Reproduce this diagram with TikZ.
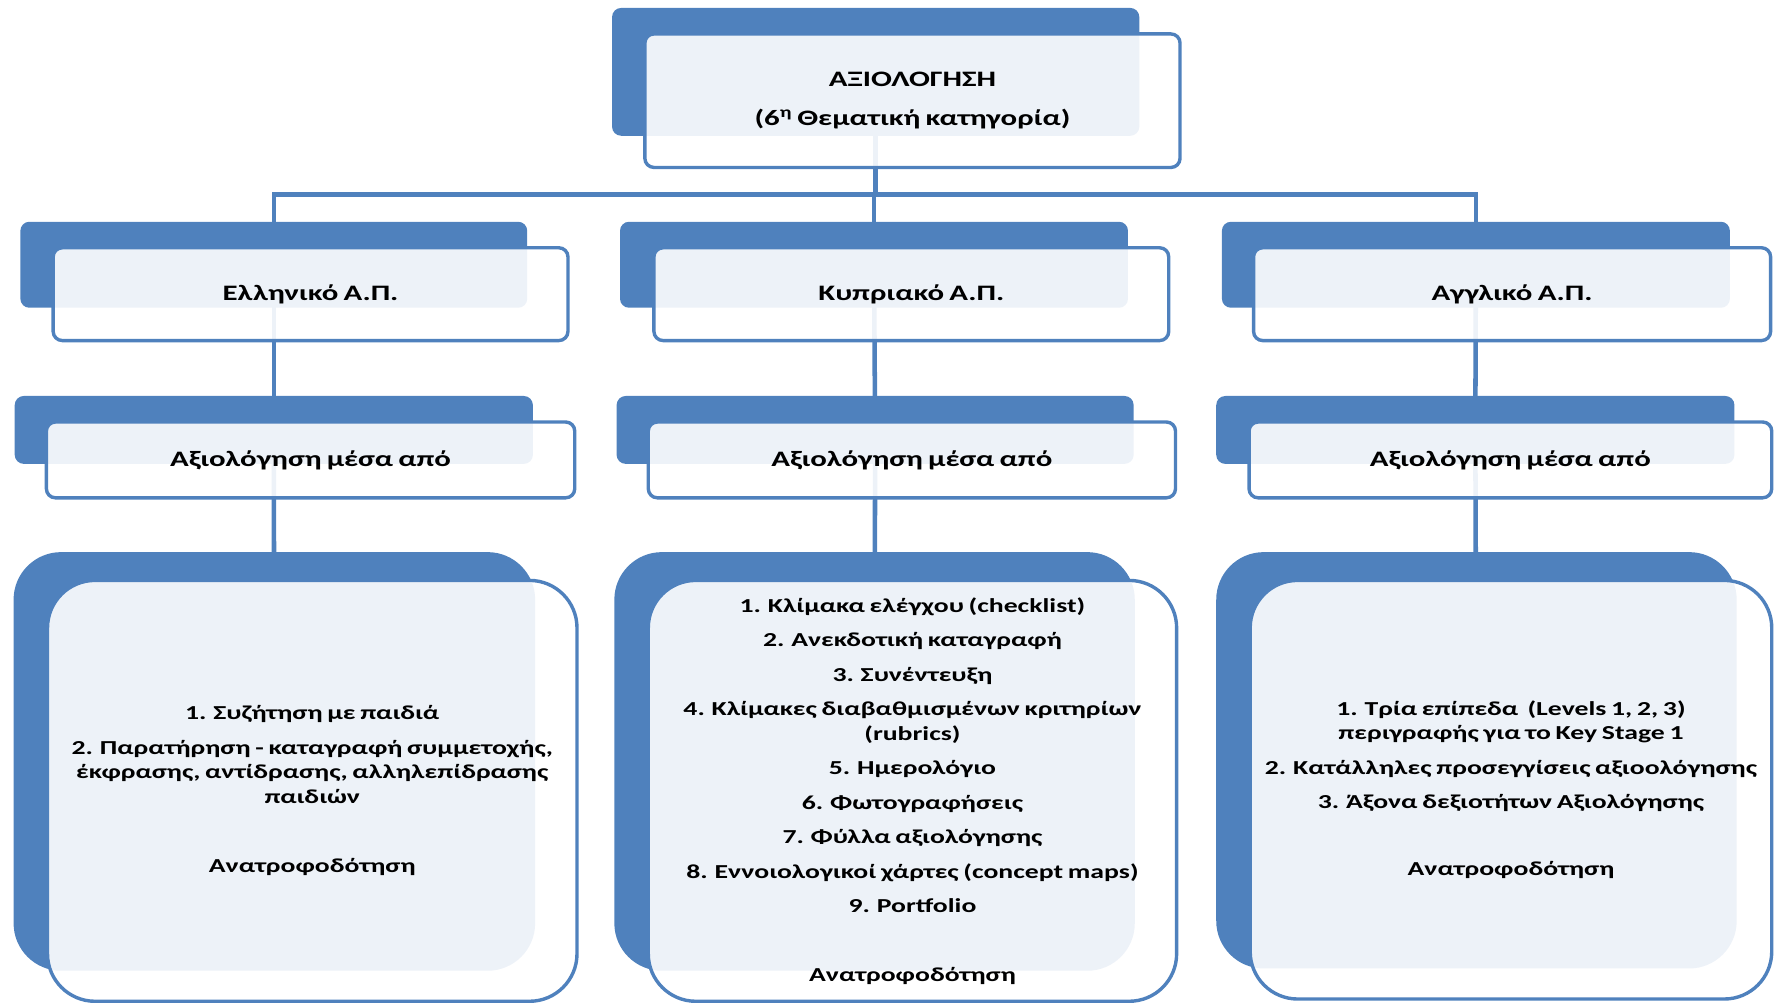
\documentclass[tikz,border=0pt]{standalone}
\usepackage{fontspec}
\setmainfont{Carlito}[FakeStretch=1.4, WordSpace=0.75]
\definecolor{acc}{HTML}{4F81BD}
\pgfdeclarelayer{bg}
\pgfsetlayers{bg,main}
\begin{document}
\begin{tikzpicture}[x=1pt,y=-1pt,
  back/.style={fill=acc, rounded corners=8pt, inner sep=0pt, draw=none},
  bigback/.style={back, rounded corners=42pt},
  front/.style={draw=acc, line width=3pt, fill=white, fill opacity=0.9, text opacity=1,
    rounded corners=8pt, inner sep=2pt, align=center, text=black,
    font=\bfseries\fontsize{19.5}{23}\selectfont},
  bigfront/.style={front, rounded corners=42pt,
    font=\bfseries\fontsize{17.5}{21.5}\selectfont},
  conn/.style={draw=acc, line width=4pt}]
\useasboundingbox (0,0) rectangle (1568,887);
\coordinate (bus) at (774,172);
% back boxes
\node[back, minimum width=466pt, minimum height=113pt] (tb) at (774,63.5) {};
\node[back, minimum width=448pt, minimum height=76pt] (l2b) at (242,234) {};
\node[back, minimum width=449pt, minimum height=76pt] (m2b) at (772.5,234) {};
\node[back, minimum width=449pt, minimum height=76pt] (r2b) at (1304.5,234) {};
\node[back, minimum width=458pt, minimum height=60pt] (l3b) at (242,380) {};
\node[back, minimum width=457pt, minimum height=60pt] (m3b) at (773.5,380) {};
\node[back, minimum width=458pt, minimum height=60pt] (r3b) at (1304,380) {};
\node[bigback, minimum width=461pt, minimum height=370pt] (l4b) at (242.5,673) {};
\node[bigback, minimum width=460pt, minimum height=370pt] (m4b) at (773,673) {};
\node[bigback, minimum width=460pt, minimum height=368pt] (r4b) at (1305,672) {};
% connectors (behind the boxes)
\begin{pgfonlayer}{bg}
\draw[conn] (tb.center) -- (tb.center |- bus);
\draw[conn] (l2b.center) |- (bus -| r2b.center) -- (r2b.center);
\draw[conn] (m2b.center) -- (m2b.center |- bus);
\draw[conn] (l2b.center) -- (l3b.center);
\draw[conn] (m2b.center) -- (m3b.center);
\draw[conn] (r2b.center) -- (r3b.center);
\draw[conn] (l3b.center) -- (l4b.center);
\draw[conn] (m3b.center) -- (m4b.center);
\draw[conn] (r3b.center) -- (r4b.center);
\end{pgfonlayer}
% front boxes
\node[front, minimum width=473pt, minimum height=118pt] (tf) at (806.5,89)
  {ΑΞΙΟΛΟΓΗΣΗ\\[12pt](6\textsuperscript{η} Θεματική κατηγορία)};
\node[front, minimum width=455pt, minimum height=82pt] (l2f) at (274.5,260) {Ελληνικό Α.Π.};
\node[front, minimum width=455pt, minimum height=82pt] (m2f) at (805.5,260) {Κυπριακό Α.Π.};
\node[front, minimum width=457pt, minimum height=82pt] (r2f) at (1336.5,260) {Αγγλικό Α.Π.};
\node[front, minimum width=467pt, minimum height=67pt] (l3f) at (274.5,406.5) {Αξιολόγηση μέσα από};
\node[front, minimum width=466pt, minimum height=67pt] (m3f) at (806,406.5) {Αξιολόγηση μέσα από};
\node[front, minimum width=462pt, minimum height=67pt] (r3f) at (1335,406.5) {Αξιολόγηση μέσα από};
\node[bigfront, minimum width=468pt, minimum height=372pt] (l4f) at (276,699)
  {1. Συζήτηση με παιδιά\\[9pt]
   2. Παρατήρηση - καταγραφή συμμετοχής,\\
   έκφρασης, αντίδρασης, αλληλεπίδρασης\\
   παιδιών\\[40pt]
   Ανατροφοδότηση};
\node[bigfront, minimum width=467pt, minimum height=372pt] (m4f) at (806.5,699)
  {1. Κλίμακα ελέγχου (checklist)\\[9pt]
   2. Ανεκδοτική καταγραφή\\[9pt]
   3. Συνέντευξη\\[9pt]
   4. Κλίμακες διαβαθμισμένων κριτηρίων\\
   (rubrics)\\[9pt]
   5. Ημερολόγιο\\[9pt]
   6. Φωτογραφήσεις\\[9pt]
   7. Φύλλα αξιολόγησης\\[9pt]
   8. Εννοιολογικοί χάρτες (concept maps)\\[9pt]
   9. Portfolio\\[39pt]
   Ανατροφοδότηση};
\node[bigfront, minimum width=461pt, minimum height=370pt] (r4f) at (1335.5,698)
  {1. Τρία επίπεδα \ (Levels 1, 2, 3)\\
   περιγραφής για το Key Stage 1\\[9pt]
   2. Κατάλληλες προσεγγίσεις αξιοολόγησης\\[9pt]
   3. Άξονα δεξιοτήτων Αξιολόγησης\\[38pt]
   Ανατροφοδότηση};
\end{tikzpicture}
\end{document}
